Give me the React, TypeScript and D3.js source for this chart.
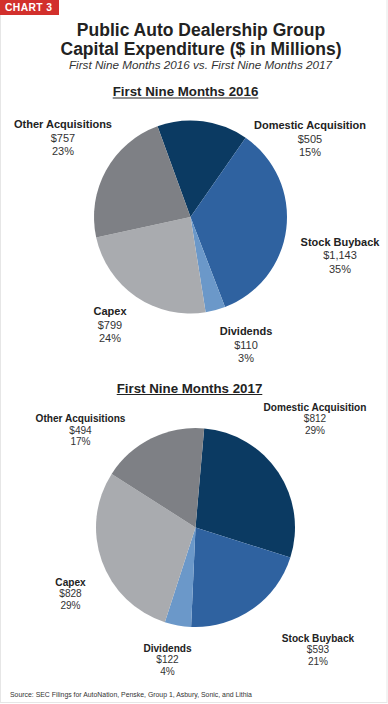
import React, { useEffect, useRef } from 'react';
import * as d3 from 'd3';

// chart data
const categories = ['Domestic Acquisition', 'Stock Buyback', 'Dividends', 'Capex', 'Other Acquisitions'];
const values2016 = [505, 1143, 110, 799, 757];
const pct2016 = ['15%', '35%', '3%', '24%', '23%'];
const values2017 = [812, 593, 122, 828, 494];
const pct2017 = ['29%', '21%', '4%', '29%', '17%'];

const colors = ['#0b3a62', '#2f62a0', '#6b98c9', '#a9abaf', '#7e8085'];

const FONT = "'Liberation Sans', Arial, Helvetica, sans-serif";

// layout for each pie: centre, radius, start angle (deg) and label anchors (x, first baseline)
const pies = [
  {
    title: 'First Nine Months 2016',
    titleY: 96,
    values: values2016,
    pct: pct2016,
    cx: 190.5, cy: 217, r: 96.5, start: -20,
    fontSize: 11, lineGap: 13.7,
    labels: [[310, 129], [340, 245.5], [246, 335], [110, 315], [63, 128]],
  },
  {
    title: 'First Nine Months 2017',
    titleY: 392.5,
    values: values2017,
    pct: pct2017,
    cx: 195.5, cy: 527.5, r: 99.5, start: 5,
    fontSize: 10.1, lineGap: 11.5,
    labels: [[315, 410.7], [318, 641.7], [167.5, 651.7], [70.5, 585.7], [80.5, 422]],
  },
];

export default function App() {
  const svgRef = useRef<SVGSVGElement>(null);

  useEffect(() => {
    const svg = d3.select(svgRef.current);
    svg.selectAll('*').remove();

    svg.append('rect').attr('width', 388).attr('height', 704).attr('fill', '#fff');
    svg.append('rect')
      .attr('x', 0.5).attr('y', -1).attr('width', 386.5).attr('height', 703.5)
      .attr('fill', 'none').attr('stroke', '#e6e6e6').attr('stroke-width', 1);

    // red chart badge
    svg.append('rect').attr('x', 0).attr('y', 0).attr('width', 59).attr('height', 15).attr('fill', '#d2302c');
    svg.append('text')
      .attr('x', 5).attr('y', 11)
      .attr('fill', '#fff').attr('font-family', FONT).attr('font-weight', 700)
      .attr('font-size', 10.3).attr('letter-spacing', 0.4)
      .text('CHART 3');

    const title = svg.append('g').attr('font-family', FONT).attr('text-anchor', 'middle').attr('fill', '#222');
    title.append('text').attr('x', 201).attr('y', 36).attr('font-size', 17.5).attr('font-weight', 700)
      .text('Public Auto Dealership Group');
    title.append('text').attr('x', 201).attr('y', 55).attr('font-size', 17.5).attr('font-weight', 700)
      .text('Capital Expenditure ($ in Millions)');
    title.append('text').attr('x', 200.5).attr('y', 69).attr('font-size', 11.7).attr('font-style', 'italic')
      .attr('fill', '#333')
      .text('First Nine Months 2016 vs. First Nine Months 2017');

    const money = d3.format('$,');

    pies.forEach((p, pi) => {
      const cx = pi === 0 ? 185.5 : 189.5;
      const head = svg.append('text')
        .attr('x', cx).attr('y', p.titleY)
        .attr('text-anchor', 'middle').attr('font-family', FONT)
        .attr('font-weight', 700).attr('font-size', 13.3).attr('fill', '#222')
        .text(p.title);
      const bb = (head.node() as SVGTextElement).getBBox();
      svg.append('line')
        .attr('x1', bb.x).attr('x2', bb.x + bb.width)
        .attr('y1', p.titleY + 2).attr('y2', p.titleY + 2)
        .attr('stroke', '#222').attr('stroke-width', 1.1);

      const start = (p.start * Math.PI) / 180;
      const pie = d3.pie<number>().sort(null).value(d => d)
        .startAngle(start).endAngle(start + 2 * Math.PI);
      const arc = d3.arc<d3.PieArcDatum<number>>().innerRadius(0).outerRadius(p.r);

      const g = svg.append('g').attr('transform', `translate(${p.cx},${p.cy})`);
      g.selectAll('path')
        .data(pie(p.values))
        .join('path')
        .attr('d', arc)
        .attr('fill', (_, i) => colors[i]);

      const lab = svg.append('g').attr('font-family', FONT).attr('text-anchor', 'middle').attr('fill', '#222')
        .attr('font-size', p.fontSize);
      p.labels.forEach(([x, y], i) => {
        const t = lab.append('text').attr('x', x).attr('y', y);
        t.append('tspan').attr('x', x).attr('font-weight', 700).text(categories[i]);
        t.append('tspan').attr('x', x).attr('dy', p.lineGap).attr('fill', '#333').text(money(p.values[i]));
        t.append('tspan').attr('x', x).attr('dy', p.lineGap).attr('fill', '#333').text(p.pct[i]);
      });
    });

    svg.append('text')
      .attr('x', 10).attr('y', 697)
      .attr('font-family', FONT).attr('font-size', 6.9).attr('fill', '#333')
      .text('Source: SEC Filings for AutoNation, Penske, Group 1, Asbury, Sonic, and Lithia');
  }, []);

  return (
    <div style={{ position: 'absolute', left: 0, top: 0 }}>
      <svg ref={svgRef} width={388} height={704} style={{ display: 'block' }} />
    </div>
  );
}
